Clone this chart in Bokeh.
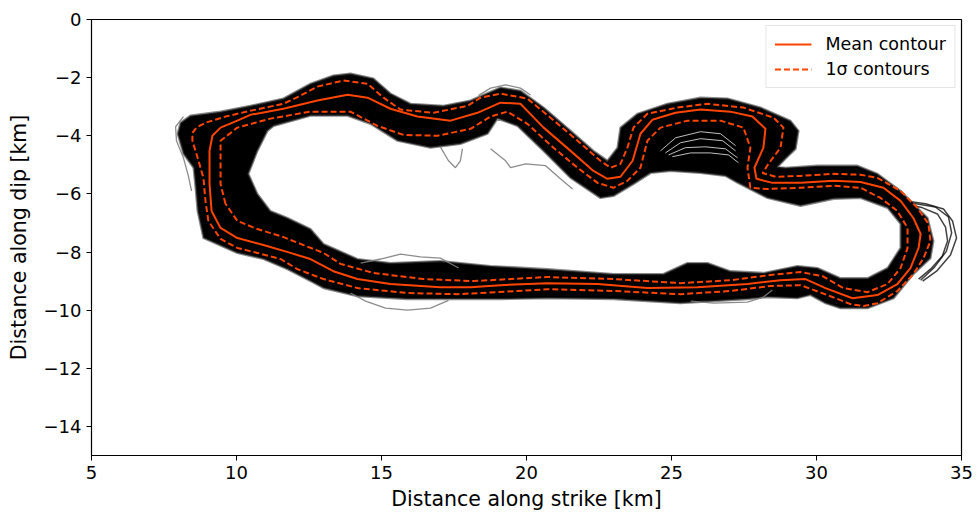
from bokeh.plotting import figure
from bokeh.models import Legend, LegendItem, FixedTicker, Range1d
from bokeh.embed import file_html
from bokeh.resources import INLINE

# ---- data (km) ----
mean_x = [9.14, 9.07, 9.07, 9.17, 9.45, 10.03, 10.48, 11.62, 12.79, 13.83, 14.52, 15.31, 16.24, 17.38, 18.31, 19.10,
          19.79, 20.59, 21.52, 22.31, 22.79, 23.24, 23.66, 23.93, 24.34, 25.14, 26.00, 27.03, 27.79, 28.24, 28.17, 27.86,
          27.93, 28.48, 29.45, 30.59, 31.52, 32.31, 32.90, 33.34, 33.59, 33.52, 33.24, 32.79, 32.10, 31.24, 30.31, 29.62,
          28.76, 27.62, 25.90, 24.17, 22.45, 20.72, 19.10, 18.07, 17.03, 15.31, 14.17, 13.34, 12.55, 11.86, 10.93, 10.03, 9.45]
mean_y = [-6.59, -5.66, -4.52, -4.00, -3.72, -3.48, -3.28, -3.07, -2.79, -2.59, -2.69, -3.07, -3.34, -3.48, -3.21, -2.86,
          -2.90, -3.72, -4.52, -5.21, -5.48, -5.41, -4.86, -3.93, -3.45, -3.21, -3.10, -3.17, -3.34, -3.76, -4.41, -5.10,
          -5.48, -5.62, -5.62, -5.55, -5.59, -5.79, -6.24, -6.83, -7.38, -7.86, -8.55, -9.10, -9.48, -9.59, -9.24, -8.93,
          -8.97, -9.10, -9.21, -9.24, -9.10, -9.07, -9.14, -9.21, -9.21, -9.10, -8.93, -8.66, -8.24, -8.03, -7.76, -7.52, -7.17]

sig_out_x = [9.03, 8.93, 8.86, 8.69, 8.48, 8.48, 8.62, 8.93, 9.62, 10.48, 11.62, 12.21, 12.79, 13.69, 14.52, 15.07, 15.66,
             16.79, 17.97, 18.41, 19.10, 20.03, 20.83, 21.76, 22.55, 22.90, 23.24, 23.48, 23.69, 24.17, 25.21, 26.24,
             27.48, 28.52, 28.86, 28.76, 28.34, 28.14, 28.59, 29.45, 30.59, 31.52, 32.10, 32.90, 33.48, 33.86, 33.93,
             33.69, 33.34, 32.79, 32.10, 31.62, 31.17, 30.48, 29.45, 28.41, 27.03, 25.31, 23.00, 20.72, 18.41, 17.62,
             15.90, 14.17, 13.00, 12.10, 11.52, 10.72, 10.03, 9.45]
sig_out_y = [-6.93, -6.24, -5.45, -4.86, -4.17, -3.90, -3.72, -3.55, -3.34, -3.14, -2.90, -2.62, -2.31, -2.10, -2.21, -2.69,
             -3.10, -3.21, -2.97, -2.69, -2.55, -2.72, -3.38, -4.17, -4.86, -5.10, -4.97, -4.41, -3.72, -3.24, -3.03,
             -2.90, -3.03, -3.38, -3.72, -4.41, -4.97, -5.28, -5.41, -5.38, -5.31, -5.34, -5.45, -5.90, -6.48, -7.03,
             -7.62, -8.21, -8.76, -9.34, -9.76, -9.86, -9.79, -9.52, -9.14, -9.17, -9.34, -9.45, -9.34, -9.28, -9.41,
             -9.45, -9.41, -9.24, -8.93, -8.59, -8.24, -8.03, -7.86, -7.55]

sig_in_x = [9.62, 9.45, 9.45, 9.45, 10.03, 11.17, 12.55, 13.93, 14.86, 15.76, 16.93, 18.07, 18.76, 19.34, 20.03, 20.93,
            21.76, 22.45, 23.00, 23.48, 23.93, 24.17, 24.62, 25.55, 26.69, 27.48, 27.72, 27.62, 27.72, 28.31, 29.45,
            30.59, 31.52, 32.21, 32.79, 33.14, 33.14, 32.90, 32.45, 31.76, 30.93, 30.21, 29.45, 28.41, 27.03, 25.31,
            23.00, 20.72, 18.17, 16.45, 14.72, 13.59, 13.00, 12.31, 11.52, 10.72, 10.03]
sig_in_y = [-6.34, -5.66, -4.76, -4.17, -3.72, -3.41, -3.17, -3.17, -3.66, -3.97, -4.00, -3.76, -3.34, -3.17, -3.59, -4.41,
            -5.10, -5.62, -5.79, -5.55, -5.10, -4.17, -3.72, -3.48, -3.48, -3.72, -4.41, -5.10, -5.79, -5.83, -5.79,
            -5.72, -5.79, -6.14, -6.59, -7.17, -7.86, -8.55, -9.10, -9.38, -9.24, -8.83, -8.69, -8.79, -8.97, -9.07,
            -8.93, -8.86, -9.00, -8.93, -8.72, -8.41, -8.03, -7.76, -7.45, -7.21, -6.93]

# outer and inner edge of the bundle of ensemble contours
env_out_x = [7.97, 8.07, 8.41, 9.45, 10.48, 11.62, 12.55, 13.34, 13.93, 14.72, 15.31, 16.00, 17.14, 18.07, 19.10, 19.79,
             20.59, 21.52, 22.31, 22.79, 23.14, 23.24, 23.83, 24.86, 26.00, 26.93, 28.07, 29.10, 29.38, 29.28, 28.93,
             28.66, 28.93, 30.03, 31.41, 32.10, 32.90, 33.34, 33.83, 34.03, 33.93, 33.34, 32.66, 31.76, 30.83, 30.31,
             29.79, 29.34, 28.31, 27.62, 25.31, 23.00, 20.72, 19.10, 17.62, 15.90, 14.17, 13.00, 12.55, 11.76, 10.93,
             10.03, 8.86, 8.66, 8.59, 8.52, 8.17]
env_out_y = [-3.93, -3.55, -3.31, -3.17, -2.97, -2.72, -2.21, -1.93, -1.86, -2.03, -2.55, -2.90, -2.97, -2.79, -2.34, -2.45,
             -3.03, -3.83, -4.52, -4.86, -4.41, -3.72, -3.24, -2.90, -2.69, -2.72, -3.03, -3.48, -3.83, -4.45, -4.79,
             -5.07, -5.10, -5.03, -5.03, -5.31, -5.90, -6.34, -6.83, -7.62, -8.21, -8.76, -9.59, -9.93, -9.93, -9.76,
             -9.48, -9.59, -9.55, -9.62, -9.76, -9.62, -9.59, -9.62, -9.62, -9.62, -9.52, -9.24, -9.00, -8.59, -8.24,
             -8.03, -7.52, -6.59, -5.79, -5.10, -4.62]
env_in_x = [10.41, 10.72, 11.07, 11.28, 12.55, 13.83, 14.62, 15.55, 16.69, 17.72, 18.66, 19.00, 19.69, 20.59, 21.52, 22.55,
            23.00, 23.69, 24.28, 24.97, 26.00, 26.86, 27.28, 28.31, 29.45, 30.59, 31.52, 32.45, 32.90, 32.90, 32.45,
            31.76, 30.83, 30.03, 29.34, 28.17, 27.03, 26.24, 25.55, 24.72, 23.00, 20.72, 18.76, 17.03, 15.31, 14.17,
            13.00, 12.55, 11.76, 11.17, 10.72]
env_in_y = [-5.31, -4.52, -3.83, -3.66, -3.31, -3.31, -3.59, -4.17, -4.41, -4.28, -3.93, -3.41, -3.66, -4.52, -5.45, -6.14,
            -6.07, -5.66, -5.28, -5.21, -5.28, -5.38, -5.62, -6.14, -6.41, -6.17, -6.14, -6.48, -7.03, -7.86, -8.55,
            -8.90, -8.90, -8.55, -8.48, -8.72, -8.66, -8.38, -8.38, -8.76, -8.76, -8.59, -8.48, -8.31, -8.38, -8.24,
            -7.72, -7.21, -6.83, -6.59, -6.00]

# light streaks inside the bundle (north-east lobe)
streak_xs = [[24.62, 25.14, 26.00, 26.69, 27.21], [24.79, 25.31, 26.00, 26.76, 27.21],
             [24.90, 25.48, 26.17, 26.86, 27.28], [25.03, 25.66, 26.34, 26.97, 27.31]]
streak_ys = [[-4.52, -4.07, -3.86, -3.93, -4.34], [-4.59, -4.24, -4.10, -4.17, -4.52],
             [-4.66, -4.41, -4.38, -4.45, -4.76], [-4.72, -4.59, -4.59, -4.66, -4.93]]

# individual outlying ensemble contours
stray_xs = [[8.17, 7.90, 7.93, 8.17, 8.34, 8.45],
            [17.03, 17.31, 17.55, 17.72, 17.79],
            [18.76, 19.28, 19.45, 19.97, 20.66, 21.17, 21.59],
            [13.93, 14.45, 15.14, 15.90, 16.69, 17.31],
            [14.28, 14.97, 15.66, 16.34, 17.03, 17.66],
            [25.66, 26.45, 27.62, 28.17, 28.48],
            [18.34, 18.76, 19.28, 19.79, 20.14]]
stray_ys = [[-3.34, -3.69, -4.17, -4.76, -5.38, -5.90],
            [-4.38, -4.86, -5.10, -4.86, -4.45],
            [-4.45, -4.86, -5.10, -4.97, -5.03, -5.48, -5.83],
            [-9.41, -9.69, -9.93, -10.00, -9.93, -9.66],
            [-8.38, -8.24, -8.07, -8.17, -8.21, -8.55],
            [-9.69, -9.76, -9.72, -9.55, -9.31],
            [-2.62, -2.36, -2.25, -2.36, -2.60]]
loop_xs = [[33.07, 33.76, 34.38, 34.69, 34.83, 34.62, 34.14, 33.66],
           [33.07, 34.10, 34.55, 34.66, 34.48, 34.07, 33.59],
           [33.07, 33.66, 34.17, 34.45, 34.52, 34.34, 33.93, 33.52]]
loop_ys = [[-6.24, -6.34, -6.52, -6.93, -7.52, -8.10, -8.66, -9.00],
           [-6.28, -6.45, -6.79, -7.34, -7.97, -8.52, -8.97],
           [-6.34, -6.48, -6.69, -7.14, -7.62, -8.14, -8.59, -8.93]]

x_ticks = [5, 10, 15, 20, 25, 30, 35]
y_ticks = [0, -2, -4, -6, -8, -10, -12, -14]
y_tick_labels = ["0", "\u22122", "\u22124", "\u22126", "\u22128", "\u221210", "\u221212", "\u221214"]

ORANGE = "#ff4500"
FONT = "DejaVu Sans"


def closed(a):
    return list(a) + [a[0]]


p = figure(frame_width=870, frame_height=436, x_range=Range1d(5, 35), y_range=Range1d(-15, 0),
           output_backend="svg", toolbar_location=None,
           min_border_left=91, min_border_right=15, min_border_top=19, min_border_bottom=58)
p.xgrid.visible = False
p.ygrid.visible = False
p.outline_line_color = "black"
p.outline_line_width = 1.2
p.background_fill_color = "white"
p.border_fill_color = "white"

# bundle of ensemble contours
p.multi_polygons(xs=[[[env_out_x, env_in_x]]], ys=[[[env_out_y, env_in_y]]],
                 fill_color="black", line_color="#3a3a3a", line_width=2.2, line_alpha=0.6,
                 line_join="round")
p.multi_line(xs=streak_xs, ys=streak_ys, line_color="white", line_width=1.0, line_alpha=0.75)
p.multi_line(xs=stray_xs, ys=stray_ys, line_color="#7f7f7f", line_width=1.3, line_alpha=0.9)
p.multi_line(xs=loop_xs, ys=loop_ys, line_color="black", line_width=1.5, line_alpha=0.75)

# mean and 1-sigma contours
r_mean = p.line(closed(mean_x), closed(mean_y), line_color=ORANGE, line_width=2.0, line_join="round")
r_out = p.line(closed(sig_out_x), closed(sig_out_y), line_color=ORANGE, line_width=2.0, line_dash="6 3")
p.line(closed(sig_in_x), closed(sig_in_y), line_color=ORANGE, line_width=2.0, line_dash="6 3")

legend = Legend(items=[LegendItem(label="Mean contour", renderers=[r_mean]),
                       LegendItem(label="1\u03c3 contours", renderers=[r_out])],
                location="top_right", label_text_font=FONT, label_text_font_size="17.5px",
                label_text_color="black",
                border_line_color="#cccccc", border_line_width=1, background_fill_alpha=0.8,
                margin=6, padding=8, spacing=5, glyph_width=37, label_standoff=14)
p.add_layout(legend)

for ax in (p.xaxis, p.yaxis):
    ax.major_label_text_font = FONT
    ax.major_label_text_font_size = "18px"
    ax.major_label_text_color = "black"
    ax.axis_label_text_font = FONT
    ax.axis_label_text_font_size = "20.5px"
    ax.axis_label_text_font_style = "normal"
    ax.axis_label_text_color = "black"
    ax.minor_tick_line_color = None
    ax.major_tick_out = 5
    ax.major_tick_in = 0
    ax.major_tick_line_color = "black"
    ax.axis_line_color = "black"
    ax.major_label_standoff = 5

p.xaxis.axis_label_standoff = 5
p.yaxis.axis_label_standoff = 10
p.xaxis.ticker = FixedTicker(ticks=x_ticks)
p.yaxis.ticker = FixedTicker(ticks=y_ticks)
p.yaxis.major_label_overrides = {t: s for t, s in zip(y_ticks, y_tick_labels)}
p.xaxis.axis_label = "Distance along strike [km]"
p.yaxis.axis_label = "Distance along dip [km]"

open("out.html", "w").write(file_html(p, INLINE))
